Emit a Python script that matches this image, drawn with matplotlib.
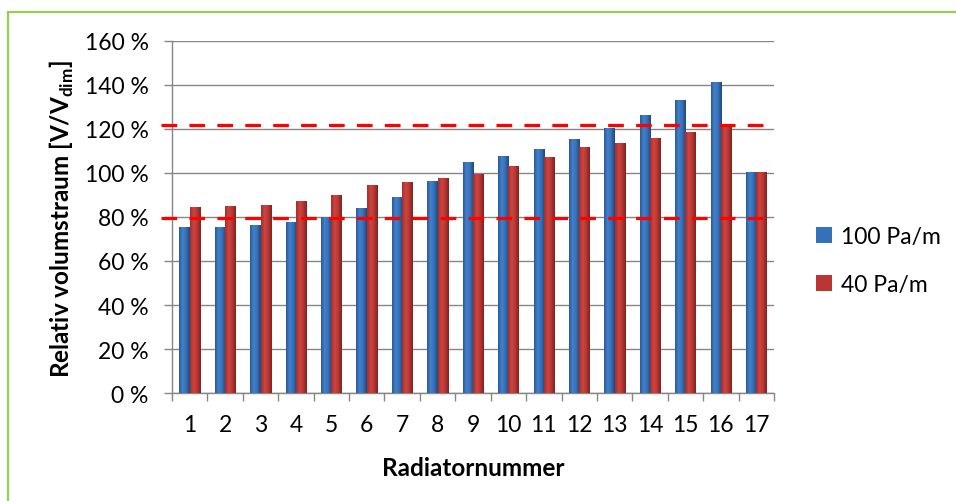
import numpy as np
import matplotlib
matplotlib.use("Agg")
import matplotlib.pyplot as plt
from matplotlib.colors import LinearSegmentedColormap
from matplotlib.patches import Rectangle

plt.rcParams['font.family'] = ['Lato', 'DejaVu Sans']
plt.rcParams['mathtext.fontset'] = 'custom'
plt.rcParams['mathtext.rm'] = 'Lato'
plt.rcParams['mathtext.bf'] = 'Lato:bold'
plt.rcParams['lines.scale_dashes'] = False

# data
radiators = [str(i) for i in range(1, 18)]
flow_100 = [75.3, 75.3, 76.2, 77.6, 79.8, 83.9, 88.9, 96.1, 104.9, 107.7,
            110.8, 115.4, 120.4, 126.3, 133.1, 141.2, 100.2]
flow_40 = [84.4, 84.8, 85.4, 87.1, 89.8, 94.5, 95.7, 97.5, 99.5, 103.1,
           107.2, 111.7, 113.6, 115.8, 118.5, 121.1, 100.2]
limits = [79.3, 121.5]
y_ticks = [0, 20, 40, 60, 80, 100, 120, 140, 160]
series_names = ['100 Pa/m', '40 Pa/m']

grid_col = '#868686'
blue_cmap = LinearSegmentedColormap.from_list('b', ['#2a5996', '#4382cc', '#3670b8', '#21467a'])
red_cmap = LinearSegmentedColormap.from_list('r', ['#9e2f2c', '#cf4541', '#b93632', '#7a2321'])

fig = plt.figure(figsize=(9.56, 5.02), dpi=100)
ax = fig.add_axes([172 / 956, 1 - 394.3 / 502, 602 / 956, (394.3 - 41.5) / 502])

x = np.arange(len(radiators))
w = 0.29
b1 = ax.bar(x - w / 2, flow_100, w, color='#3670b8', label=series_names[0], zorder=3)
b2 = ax.bar(x + w / 2, flow_40, w, color='#b93632', label=series_names[1], zorder=3)

# bevel-ish horizontal gradient on each bar
grad = np.linspace(0, 1, 64)[None, :]
for bars, cmap in [(b1, blue_cmap), (b2, red_cmap)]:
    for b in bars:
        bx, by, bw, bh = b.get_x(), b.get_y(), b.get_width(), b.get_height()
        im = ax.imshow(grad, cmap=cmap, extent=[bx, bx + bw, by, by + bh],
                       aspect='auto', zorder=3.1, interpolation='bicubic')
        im.set_clip_path(b)

# red dashed limit lines
for lv in limits:
    ax.plot([-0.81, 16.25], [lv, lv], color='#ff0000', lw=2.3,
            dashes=(11.3, 8.8), zorder=4, clip_on=False, solid_capstyle='butt',
            dash_capstyle='butt')

ax.set_xlim(-0.5, len(radiators) - 0.5)
ax.set_ylim(0, 160)
ax.set_yticks(y_ticks)
ax.set_yticklabels([f'{v} %' for v in y_ticks])
ax.set_xticks(x)
ax.set_xticklabels(radiators)
ax.set_xticks(np.arange(len(radiators) + 1) - 0.5, minor=True)

ax.grid(axis='y', color=grid_col, lw=1.0, zorder=0)
ax.set_axisbelow(True)
for s in ['top', 'right']:
    ax.spines[s].set_visible(False)
for s in ['left', 'bottom']:
    ax.spines[s].set_color(grid_col)
    ax.spines[s].set_linewidth(1.0)

ax.tick_params(axis='y', length=5.8, width=1.0, color=grid_col, pad=11, labelsize=16.5)
ax.tick_params(axis='x', which='major', length=0, pad=15, labelsize=16.5)
ax.tick_params(axis='x', which='minor', length=5.8, width=1.0, color=grid_col)

fig.text(62 / 956, 1 - 219 / 502, r'Relativ volumstraum [V/V$_{\mathbf{dim}}$]',
         rotation=90, ha='center', va='center', fontsize=17.5, fontweight='bold')
fig.text(473 / 956, 1 - 469 / 502, 'Radiatornummer', ha='center', va='center',
         fontsize=17.5, fontweight='bold')

ax.legend(loc='center left', bbox_to_anchor=(816 / 956, 1 - 261.5 / 502),
          bbox_transform=fig.transFigure, frameon=False, fontsize=16.5,
          handlelength=0.68, handleheight=0.68, handletextpad=0.4,
          labelspacing=1.2, borderpad=0, borderaxespad=0)

# green chart border (only left and top edges fall inside the picture)
fig.patches.append(Rectangle((7.5 / 956, -0.5), 2.0, 0.5 + 1 - 12.5 / 502,
                             transform=fig.transFigure, fill=False,
                             edgecolor='#92d050', lw=1.6))

fig.savefig('out.png', dpi=100)
